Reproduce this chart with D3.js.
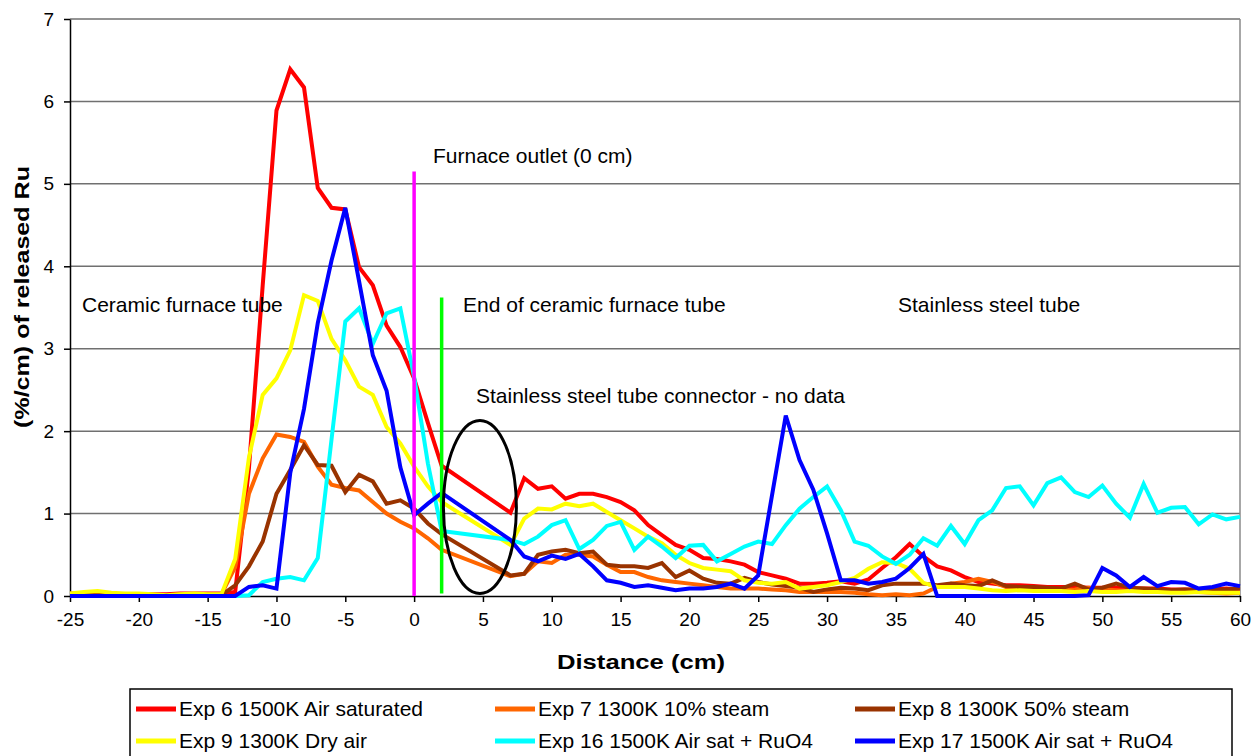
<!DOCTYPE html>
<html>
<head>
<meta charset="utf-8">
<script src="https://cdn.jsdelivr.net/npm/d3@7"></script>
<style>
  body { margin: 0; background: #fff; }
  svg { display: block; font-family: "Liberation Sans", Arial, sans-serif; }
</style>
</head>
<body>
<svg id="chart" width="1260" height="756"></svg>
<script>
// measurement positions (cm), no data between 2 and 7 (tube connector)
var distance = [
  -25, -24, -23, -22, -21, -20, -19, -18, -17, -16, -15, -14,
  -13, -12, -11, -10, -9, -8, -7, -6, -5, -4, -3, -2, -1, 0, 1, 2,
  7, 8, 9, 10, 11, 12, 13, 14, 15, 16, 17, 18, 19, 20, 21, 22, 23, 24, 25,
  26, 27, 28, 29, 30, 31, 32, 33, 34, 35, 36, 37, 38, 39, 40, 41, 42, 43,
  44, 45, 46, 47, 48, 49, 50, 51, 52, 53, 54, 55, 56, 57, 58, 59, 60
];

var exp6 = [
  0.03, 0.03, 0.02, 0.02, 0.02, 0.02, 0.02, 0.02, 0.03, 0.03, 0.03, 0.03,
  0.05, 1.55, 3.77, 5.89, 6.39, 6.17, 4.95, 4.71, 4.69, 3.99, 3.77, 3.28, 3.02, 2.64, 2.10, 1.58,
  1.01, 1.43, 1.30, 1.33, 1.18, 1.24, 1.24, 1.20, 1.14, 1.04, 0.86,
  0.74, 0.62, 0.56, 0.46, 0.45, 0.42, 0.38, 0.29, 0.25, 0.21, 0.15, 0.15, 0.16, 0.18, 0.15,
  0.20, 0.34, 0.47, 0.63, 0.48, 0.36, 0.31, 0.23, 0.17, 0.15, 0.13, 0.13, 0.12, 0.11,
  0.11, 0.11, 0.10, 0.10, 0.10, 0.09, 0.09, 0.09, 0.08, 0.08, 0.08, 0.08, 0.09, 0.08
];
var exp7 = [
  0.02, 0.02, 0.02, 0.02, 0.02, 0.02, 0.01, 0.01, 0.02, 0.02, 0.02, 0.02,
  0.35, 1.24, 1.67, 1.96, 1.93, 1.87, 1.57, 1.35, 1.31, 1.28, 1.14, 1.00, 0.90, 0.82, 0.70, 0.56,
  0.24, 0.27, 0.42, 0.40, 0.50, 0.50, 0.48, 0.38, 0.29, 0.29, 0.23,
  0.19, 0.17, 0.15, 0.13, 0.11, 0.09, 0.09, 0.09, 0.08, 0.07, 0.05, 0.05, 0.05, 0.05, 0.04,
  0.02, 0.01, 0.02, 0.01, 0.03, 0.11, 0.15, 0.17, 0.21, 0.17, 0.11, 0.09, 0.08, 0.07,
  0.07, 0.08, 0.10, 0.08, 0.07, 0.06, 0.06, 0.07, 0.06, 0.05, 0.05, 0.04, 0.03, 0.04
];
var exp8 = [
  0.01, 0.01, 0.01, 0.01, 0.01, 0.01, 0.01, 0.01, 0.01, 0.01, 0.01, 0.01,
  0.13, 0.36, 0.66, 1.24, 1.53, 1.83, 1.59, 1.58, 1.26, 1.47, 1.39, 1.12, 1.16, 1.06, 0.88, 0.75,
  0.25, 0.27, 0.50, 0.54, 0.56, 0.52, 0.54, 0.38, 0.36, 0.36, 0.34,
  0.40, 0.23, 0.31, 0.21, 0.16, 0.15, 0.22, 0.17, 0.14, 0.12, 0.10, 0.05, 0.08, 0.10, 0.09,
  0.07, 0.13, 0.15, 0.15, 0.15, 0.13, 0.15, 0.13, 0.12, 0.19, 0.12, 0.11, 0.11, 0.10,
  0.09, 0.15, 0.08, 0.10, 0.15, 0.10, 0.09, 0.08, 0.07, 0.08, 0.07, 0.08, 0.08, 0.09
];
var exp9 = [
  0.03, 0.05, 0.06, 0.04, 0.03, 0.03, 0.02, 0.01, 0.02, 0.03, 0.02, 0.02,
  0.45, 1.68, 2.44, 2.64, 2.98, 3.65, 3.58, 3.12, 2.86, 2.54, 2.44, 2.05, 1.85, 1.57, 1.33, 1.14,
  0.62, 0.94, 1.06, 1.05, 1.12, 1.09, 1.12, 1.02, 0.92, 0.82, 0.72,
  0.64, 0.50, 0.40, 0.34, 0.32, 0.30, 0.19, 0.16, 0.15, 0.17, 0.09, 0.11, 0.13, 0.17, 0.22,
  0.33, 0.41, 0.40, 0.33, 0.16, 0.11, 0.11, 0.11, 0.09, 0.07, 0.06, 0.07, 0.06, 0.06,
  0.06, 0.05, 0.06, 0.05, 0.05, 0.06, 0.05, 0.05, 0.04, 0.04, 0.05, 0.04, 0.04, 0.04
];
var exp16 = [
  0, 0, 0, 0, 0, 0, 0, 0, 0, 0, 0, 0,
  0.00, 0.01, 0.17, 0.21, 0.23, 0.19, 0.46, 1.90, 3.33, 3.49, 3.06, 3.43, 3.49, 2.66, 1.61, 0.79,
  0.68, 0.63, 0.72, 0.86, 0.92, 0.57, 0.68, 0.85, 0.90, 0.56, 0.72,
  0.60, 0.46, 0.61, 0.62, 0.42, 0.51, 0.60, 0.66, 0.63, 0.86, 1.06, 1.20, 1.33, 1.04, 0.66,
  0.61, 0.48, 0.39, 0.50, 0.70, 0.61, 0.85, 0.63, 0.92, 1.04, 1.31, 1.33, 1.10, 1.37,
  1.44, 1.26, 1.20, 1.34, 1.12, 0.95, 1.36, 1.01, 1.07, 1.08, 0.87, 0.99, 0.93, 0.96
];
var exp17 = [
  0, 0, 0, 0, 0, 0, 0, 0, 0, 0, 0, 0,
  0.00, 0.11, 0.13, 0.09, 1.49, 2.27, 3.31, 4.07, 4.71, 3.82, 2.92, 2.49, 1.56, 0.98, 1.12, 1.25,
  0.68, 0.48, 0.42, 0.49, 0.45, 0.51, 0.36, 0.19, 0.16, 0.11, 0.13,
  0.10, 0.07, 0.09, 0.09, 0.11, 0.15, 0.09, 0.25, 1.22, 2.19, 1.65, 1.29, 0.76, 0.19, 0.19,
  0.15, 0.17, 0.21, 0.34, 0.51, 0, 0, 0, 0, 0, 0, 0, 0, 0,
  0, 0, 0.01, 0.34, 0.25, 0.11, 0.23, 0.12, 0.17, 0.16, 0.09, 0.11, 0.15, 0.12
];

var seriesNames = [
  "Exp 6 1500K Air saturated", "Exp 7 1300K 10% steam", "Exp 8 1300K 50% steam",
  "Exp 9 1300K Dry air", "Exp 16 1500K Air sat + RuO4", "Exp 17 1500K Air sat + RuO4"
];
var seriesValues = [exp6, exp7, exp8, exp9, exp16, exp17];
var seriesColors = ["#ff0000", "#ff6600", "#993300", "#ffff00", "#00ffff", "#0000ff"];

var xTicks = [-25, -20, -15, -10, -5, 0, 5, 10, 15, 20, 25, 30, 35, 40, 45, 50, 55, 60];
var yTicks = [0, 1, 2, 3, 4, 5, 6, 7];

function draw() {
  var svg = d3.select("#chart");
  var pLeft = 70, pRight = 1240, pTop = 19, pBottom = 596;

  var x = d3.scaleLinear().domain([-25, 60]).range([pLeft, pRight]);
  var y = d3.scaleLinear().domain([0, 7]).range([pBottom, pTop]);

  // gridlines
  svg.append("g").selectAll("line")
    .data(yTicks.slice(1))
    .join("line")
    .attr("x1", pLeft).attr("x2", pRight)
    .attr("y1", d => y(d)).attr("y2", d => y(d))
    .attr("stroke", "#707070").attr("stroke-width", 1.5);

  // plot area right border
  svg.append("line")
    .attr("x1", pRight).attr("x2", pRight).attr("y1", pTop).attr("y2", pBottom)
    .attr("stroke", "#8a8a8a").attr("stroke-width", 1.5);

  // axes
  var xAxis = svg.append("g")
    .attr("transform", "translate(0," + pBottom + ")")
    .call(d3.axisBottom(x).tickValues(xTicks).tickFormat(d => String(d))
      .tickSize(6).tickSizeOuter(0).tickPadding(11));
  var yAxis = svg.append("g")
    .attr("transform", "translate(" + pLeft + ",0)")
    .call(d3.axisLeft(y).tickValues(yTicks).tickFormat(d => String(d))
      .tickSize(6).tickSizeOuter(0).tickPadding(10));

  [xAxis, yAxis].forEach(function (g) {
    g.select(".domain").attr("stroke", "#000").attr("stroke-width", 1.5);
    g.selectAll(".tick line").attr("stroke", "#000").attr("stroke-width", 1.5);
    g.selectAll("text").attr("fill", "#000")
      .style("font-family", "'Liberation Sans', Arial, sans-serif").style("font-size", "19px");
  });

  // series
  var line = d3.line()
    .x((d, i) => x(distance[i]))
    .y(d => y(d));

  svg.append("g").selectAll("path")
    .data(seriesValues)
    .join("path")
    .attr("d", d => line(d))
    .attr("fill", "none")
    .attr("stroke", (d, i) => seriesColors[i])
    .attr("stroke-width", 4)
    .attr("stroke-linejoin", "miter");

  // markers: furnace outlet and end of ceramic tube
  svg.append("line")
    .attr("x1", x(0)).attr("x2", x(0)).attr("y1", y(0)).attr("y2", y(5.15))
    .attr("stroke", "#ff00ff").attr("stroke-width", 3.5);
  svg.append("line")
    .attr("x1", x(2)).attr("x2", x(2)).attr("y1", y(0.03)).attr("y2", y(3.62))
    .attr("stroke", "#00ff00").attr("stroke-width", 3.5);

  // connector ellipse
  svg.append("ellipse")
    .attr("cx", x(4.78)).attr("cy", y(1.08))
    .attr("rx", x(4.78) - x(2.13)).attr("ry", y(0.03) - y(1.08))
    .attr("fill", "none").attr("stroke", "#000").attr("stroke-width", 3);

  // annotations
  var notes = [
    { t: "Furnace outlet (0 cm)", x: 433, y: 163 },
    { t: "Ceramic furnace tube", x: 82, y: 312 },
    { t: "End of ceramic furnace tube", x: 463, y: 312 },
    { t: "Stainless steel tube", x: 898, y: 312 },
    { t: "Stainless steel tube connector - no data", x: 476, y: 403 }
  ];
  svg.append("g").selectAll("text")
    .data(notes)
    .join("text")
    .attr("x", d => d.x).attr("y", d => d.y)
    .style("font-size", "21px")
    .text(d => d.t);

  // axis titles
  svg.append("text")
    .attr("x", 641).attr("y", 669)
    .attr("text-anchor", "middle")
    .attr("textLength", 168).attr("lengthAdjust", "spacingAndGlyphs")
    .style("font-size", "20px").style("font-weight", "bold")
    .text("Distance (cm)");
  svg.append("text")
    .attr("transform", "translate(29,297) rotate(-90)")
    .attr("text-anchor", "middle")
    .attr("textLength", 262).attr("lengthAdjust", "spacingAndGlyphs")
    .style("font-size", "20px").style("font-weight", "bold")
    .text("(%/cm) of released Ru");

  // legend
  var legend = svg.append("g");
  legend.append("rect")
    .attr("x", 130).attr("y", 689).attr("width", 1102).attr("height", 80)
    .attr("fill", "#fff").attr("stroke", "#000").attr("stroke-width", 1.5);
  var colX = [136, 495, 855];
  var rowY = [709, 741];
  var items = legend.selectAll("g.item")
    .data(seriesNames)
    .join("g")
    .attr("class", "item")
    .attr("transform", (d, i) => "translate(" + colX[i % 3] + "," + rowY[Math.floor(i / 3)] + ")");
  items.append("line")
    .attr("x1", 0).attr("x2", 40).attr("y1", 0).attr("y2", 0)
    .attr("stroke", (d, i) => seriesColors[i]).attr("stroke-width", 5);
  items.append("text")
    .attr("x", 43).attr("y", 7)
    .style("font-size", "21px")
    .text(d => d);
}
draw();
</script>
</body>
</html>
